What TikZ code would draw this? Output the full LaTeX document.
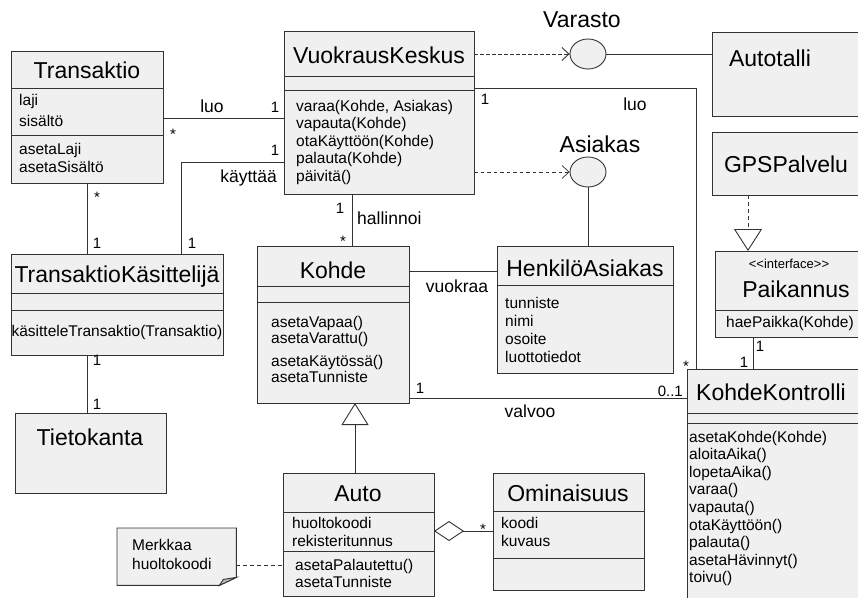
\documentclass[tikz,border=0pt]{standalone}
\usepackage{fontspec}
\setmainfont{Liberation Sans}
\usetikzlibrary{arrows.meta,shapes.geometric,calc}

\begin{document}
\begin{tikzpicture}[x=1pt,y=-1pt,
	cls/.style={draw=black!80,fill=gray!12,line width=0.9pt,anchor=north west,inner sep=0pt,outer sep=0pt},
	sep/.style={draw=black!80,line width=0.9pt},
	ttl/.style={font=\fontsize{23}{25}\selectfont,anchor=base,inner sep=0pt},
	txt/.style={font=\fontsize{15.5}{17}\selectfont,anchor=base west,inner sep=0pt},
	lbl/.style={font=\fontsize{17.5}{19}\selectfont,anchor=base,inner sep=0pt},
	mult/.style={font=\fontsize{15}{17}\selectfont,anchor=base,inner sep=0pt},
	assoc/.style={draw=black!80,line width=0.9pt},
	dep/.style={assoc,dash pattern=on 4pt off 2pt,-{Straight Barb[length=7pt,width=13pt]}},
	gen/.style={assoc,-{Triangle[fill=white,length=22pt,width=27pt]}},
	iface/.style={ellipse,draw=black!80,fill=gray!12,line width=0.9pt,minimum width=36pt,minimum height=30pt,inner sep=0pt}]
	\useasboundingbox (0,0) rectangle (858,597);
	\clip (0,0) rectangle (858,597);
	\fill[white] (0,0) rectangle (858,597);

	% luokat
	\node[cls,minimum width=152pt,minimum height=132pt] (trans) at (11,51) {};
	\draw[sep] (trans.west |- 0,88) -- (trans.east |- 0,88) (trans.west |- 0,135) -- (trans.east |- 0,135);
	\node[ttl] (transT) at (87,78) {Transaktio};
	\foreach \y/\t in {105/laji,126/sisältö,154/asetaLaji,172/asetaSisältö}
		\node[txt] at (19,\y) {\t};

	\node[cls,minimum width=212pt,minimum height=101pt] (tk) at (11,254) {};
	\draw[sep] (tk.west |- 0,293) -- (tk.east |- 0,293) (tk.west |- 0,310) -- (tk.east |- 0,310);
	\node[ttl] (tkT) at (117,282) {TransaktioKäsittelijä};
	\node[txt,anchor=base] at (117,336) {käsitteleTransaktio(Transaktio)};

	\node[cls,minimum width=151pt,minimum height=80pt] (tieto) at (15,413) {};
	\node[ttl] (tietoT) at (90,445) {Tietokanta};

	\node[cls,minimum width=190pt,minimum height=163pt] (vk) at (284,31) {};
	\draw[sep] (vk.west |- 0,76) -- (vk.east |- 0,76) (vk.west |- 0,90) -- (vk.east |- 0,90);
	\node[ttl] (vkT) at (379,63) {VuokrausKeskus};
	\foreach \t [count=\i from 0] in {{varaa(Kohde, Asiakas)},vapauta(Kohde),otaKäyttöön(Kohde),palauta(Kohde),päivitä()}
		\node[txt] at (296,{111+17.5*\i}) {\t};

	\node[cls,minimum width=152pt,minimum height=157pt] (kohde) at (257,246) {};
	\draw[sep] (kohde.west |- 0,286) -- (kohde.east |- 0,286) (kohde.west |- 0,302) -- (kohde.east |- 0,302);
	\node[ttl] (kohdeT) at (333,278) {Kohde};
	\foreach \y/\t in {327/asetaVapaa(),343/asetaVarattu(),366/asetaKäytössä(),382/asetaTunniste}
		\node[txt] at (271,\y) {\t};

	\node[cls,minimum width=176pt,minimum height=127pt] (henk) at (497,246) {};
	\draw[sep] (henk.west |- 0,285) -- (henk.east |- 0,285);
	\node[ttl] (henkT) at (585,276) {HenkilöAsiakas};
	\foreach \y/\t in {308/tunniste,326/nimi,344/osoite,362/luottotiedot}
		\node[txt] at (505,\y) {\t};

	\node[cls,minimum width=160pt,minimum height=84pt] (autotalli) at (712,32) {};
	\node[ttl] (autotalliT) at (770,66) {Autotalli};

	\node[cls,minimum width=160pt,minimum height=63pt] (gps) at (712,132) {};
	\node[ttl] (gpsT) at (786,172) {GPSPalvelu};

	\node[cls,minimum width=160pt,minimum height=86pt] (paik) at (715,251) {};
	\draw[sep] (paik.west |- 0,310) -- (paik.east |- 0,310);
	\node[mult,font=\fontsize{13}{15}\selectfont] (paikS) at (789,268) {<{}<interface>{}>};
	\node[ttl] (paikT) at (796,297) {Paikannus};
	\node[txt] at (726,327) {haePaikka(Kohde)};

	\node[cls,minimum width=180pt,minimum height=240pt] (kk) at (687,369) {};
	\draw[sep] (kk.west |- 0,413) -- (kk.east |- 0,413) (kk.west |- 0,423) -- (kk.east |- 0,423);
	\node[ttl] (kkT) at (771,400) {KohdeKontrolli};
	\foreach \t [count=\i from 0] in {asetaKohde(Kohde),aloitaAika(),lopetaAika(),varaa(),vapauta(),otaKäyttöön(),palauta(),asetaHävinnyt(),toivu()}
		\node[txt] at (689,{442+17.6*\i}) {\t};

	\node[cls,minimum width=151pt,minimum height=123pt] (auto) at (283,473) {};
	\draw[sep] (auto.west |- 0,512) -- (auto.east |- 0,512) (auto.west |- 0,551) -- (auto.east |- 0,551);
	\node[ttl] (autoT) at (358,501) {Auto};
	\node[txt] at (292,528) {huoltokoodi};
	\node[txt] at (292,546) {rekisteritunnus};
	\node[txt] at (295,570) {asetaPalautettu()};
	\node[txt] at (295,587) {asetaTunniste};

	\node[cls,minimum width=151pt,minimum height=117pt] (omin) at (493,473) {};
	\draw[sep] (omin.west |- 0,511) -- (omin.east |- 0,511) (omin.west |- 0,558) -- (omin.east |- 0,558);
	\node[ttl] (ominT) at (568,501) {Ominaisuus};
	\node[txt] at (501,528) {koodi};
	\node[txt] at (501,546) {kuvaus};

	% rajapinnat
	\node[iface] (varasto) at (588,54) {};
	\node[ttl] (varastoT) at (582,27) {Varasto};
	\node[iface] (asiakas) at (588,172) {};
	\node[ttl] (asiakasT) at (600,152) {Asiakas};

	% huomautus
	\node[anchor=north west,minimum width=119pt,minimum height=57pt,inner sep=0pt] (note) at (117,528) {};
	\draw[assoc,fill=gray!12] (note.north west) -- (note.north east) -- ($(note.south east)+(0,-8)$)
		-- ($(note.south east)+(-17,0)$) -- (note.south west) -- cycle;
	\draw[assoc,fill=gray!55] ($(note.south east)+(0,-8)$) -- ($(note.south east)+(-13,-6)$) -- ($(note.south east)+(-17,0)$) -- cycle;
	\node[txt] at (132,550) {Merkkaa};
	\node[txt] at (132,569) {huoltokoodi};

	% yhteydet
	\draw[assoc] (trans.east |- 0,118) -- (vk.west |- 0,118);
	\node[lbl] at (212,112) {luo};
	\node[mult] at (275,112) {1};
	\node[mult] at (173,139) {*};

	\draw[assoc] (vk.west |- 0,162) -| (181,0 |- tk.north);
	\node[mult] at (275,155) {1};
	\node[lbl,anchor=base east] at (277,182) {käyttää};
	\node[mult] at (192,248) {1};

	\draw[assoc] (trans.south) -- (trans.south |- tk.north);
	\node[mult] at (97,202) {*};
	\node[mult] at (97,248) {1};

	\draw[assoc] (87,0 |- tk.south) -- (87,0 |- tieto.north);
	\node[mult] at (97,365) {1};
	\node[mult] at (97,409) {1};

	\draw[assoc] (352,0 |- vk.south) -- (352,0 |- kohde.north);
	\node[mult] at (340,213) {1};
	\node[lbl,anchor=base west] at (357,224) {hallinnoi};
	\node[mult] at (343,246) {*};

	\draw[assoc] (kohde.east |- 0,271) -- (henk.west |- 0,271);
	\node[lbl] at (457,292) {vuokraa};

	\draw[dep] (vk.east |- varasto) -- (varasto.west);
	\draw[dep,line width=0.7pt,dash pattern=on 3.5pt off 3pt] (vk.east |- asiakas) -- (asiakas.west);
	\draw[assoc] (varasto.east) -- (autotalli.west |- varasto);
	\draw[assoc] (asiakas.south) -- (asiakas.south |- henk.north);

	\draw[assoc] (vk.east |- 0,88) -| (696,0 |- kk.north);
	\node[mult] at (485,104) {1};
	\node[lbl] at (635,110) {luo};
	\node[mult] at (686,371) {*};

	\draw[assoc,dash pattern=on 4pt off 3pt,-{Triangle[fill=white,length=22pt,width=28pt]}] (748,0 |- gps.south) -- (748,0 |- paik.north);
	\draw[assoc] (753,0 |- paik.south) -- (753,0 |- kk.north);
	\node[mult] at (760,351) {1};
	\node[mult] at (744,367) {1};

	\draw[assoc] (kohde.east |- 0,398) -- (kk.west |- 0,398);
	\node[mult] at (420,393) {1};
	\node[mult,anchor=base east] at (683,396) {0..1};
	\node[lbl] at (530,417) {valvoo};

	\draw[gen] (355,0 |- auto.north) -- (355,0 |- kohde.south);
	\draw[assoc,{Diamond[fill=white,length=30pt,width=20pt]}-] (auto.east |- 0,531) -- (omin.west |- 0,531);
	\node[mult] at (483,534) {*};
	\draw[assoc,dash pattern=on 4pt off 3pt] (note.east |- 0,565) -- (auto.west |- 0,565);
\end{tikzpicture}
\end{document}
